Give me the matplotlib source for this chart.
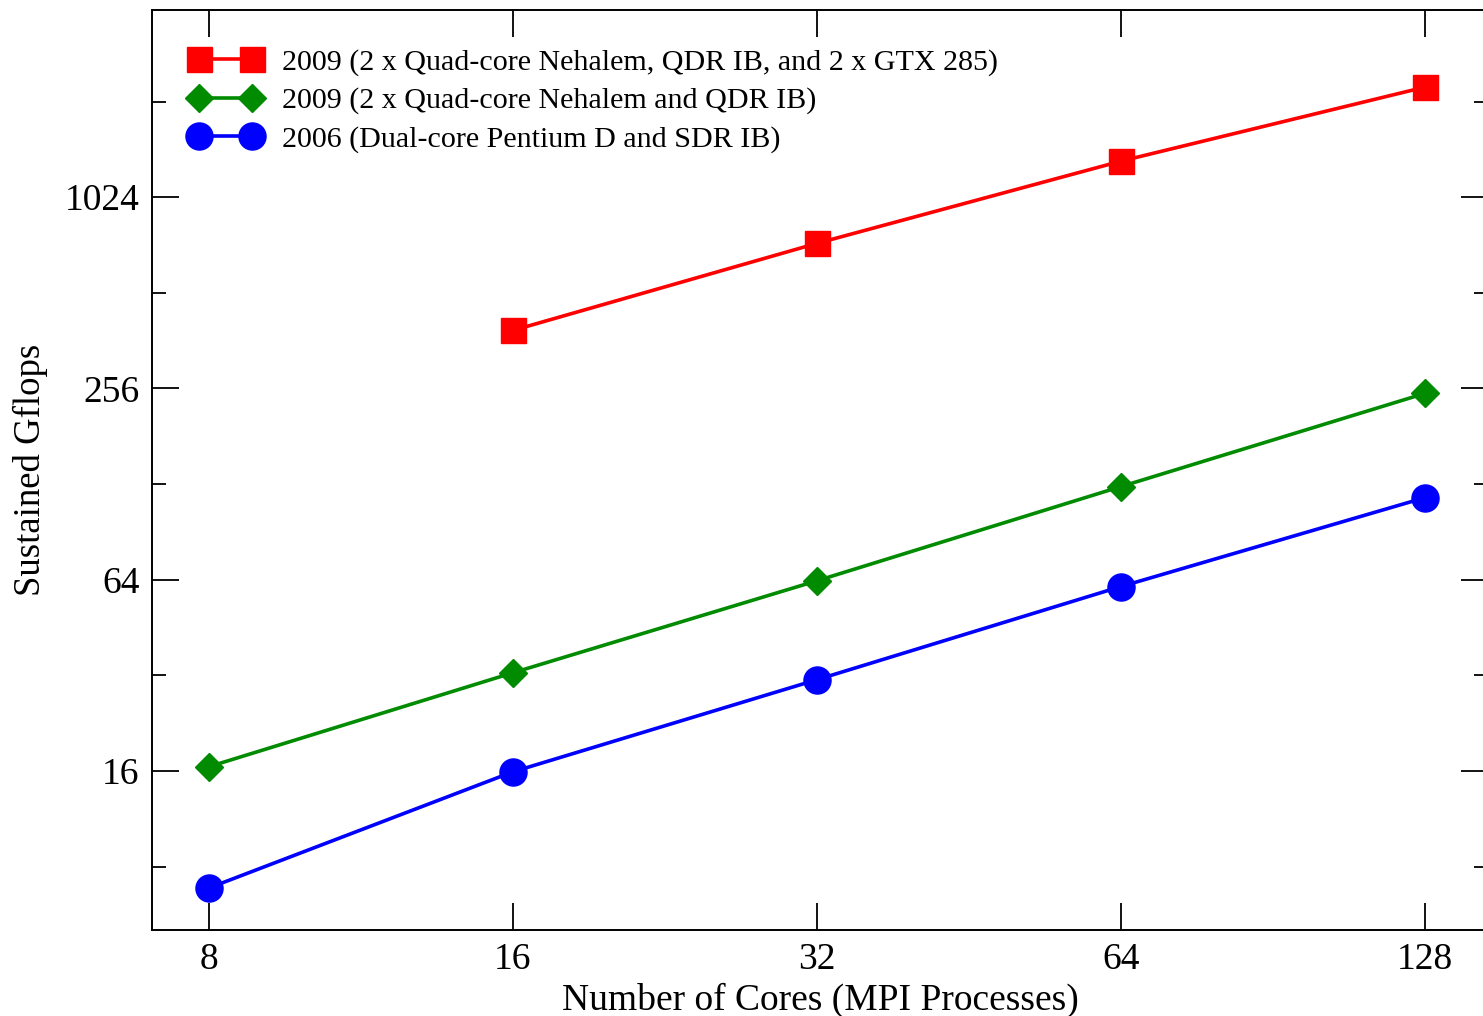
import matplotlib.pyplot as plt
from matplotlib.ticker import FixedLocator, NullFormatter

plt.rcParams['font.family'] = ['Liberation Serif', 'DejaVu Serif']

# data
cores = [8, 16, 32, 64, 128]
gpu_2009 = [None, 390, 733, 1330, 2275]
nehalem_2009 = [16.5, 32.6, 63.5, 125.7, 247]
pentium_2006 = [6.85, 15.9, 31, 60.9, 116]

labels = [
    "2009 (2 x Quad-core Nehalem, QDR IB, and 2 x GTX 285)",
    "2009 (2 x Quad-core Nehalem and QDR IB)",
    "2006 (Dual-core Pentium D and SDR IB)",
]
y_major = [16, 64, 256, 1024]
y_minor = [8, 32, 128, 512, 2048]

fig = plt.figure(figsize=(14.83, 10.16), dpi=100)
ax = fig.add_axes([152 / 1483, 1 - 930 / 1016, 1336 / 1483, 920.5 / 1016])

gx = [c for c, v in zip(cores, gpu_2009) if v is not None]
gy = [v for v in gpu_2009 if v is not None]
ax.plot(gx, gy, "-s", color="#ff0000", lw=2.6, ms=18, label=labels[0])
ax.plot(cores, nehalem_2009, "-D", color="#008b00", lw=2.6, ms=14.2, label=labels[1])
ax.plot(cores, pentium_2006, "-o", color="#0000ff", lw=2.6, ms=19.5, label=labels[2])

ax.set_xscale("log", base=2)
ax.set_yscale("log", base=2)
ax.set_xlim(7.025, 147.8)
ax.set_ylim(5.05, 3993)

ax.xaxis.set_major_locator(FixedLocator(cores))
ax.set_xticklabels([str(c) for c in cores])
ax.xaxis.set_minor_locator(FixedLocator([]))
ax.yaxis.set_major_locator(FixedLocator(y_major))
ax.set_yticklabels([str(v) for v in y_major])
ax.yaxis.set_minor_locator(FixedLocator(y_minor))
ax.yaxis.set_minor_formatter(NullFormatter())

ax.tick_params(which="both", direction="in", top=True, right=True, width=1.3, labelsize=27)
ax.tick_params(which="major", length=19.5, pad=9)
ax.tick_params(which="minor", length=10)
for s in ax.spines.values():
    s.set_linewidth(1.4)

ax.set_xlabel("Number of Cores (MPI Processes)", fontsize=27, labelpad=4)
ax.set_ylabel("Sustained Gflops", fontsize=26.5, labelpad=12)

ax.legend(loc="upper left", bbox_to_anchor=(0.006, 0.99), frameon=False, fontsize=21.6,
          handlelength=2.35, handletextpad=0.72, labelspacing=0.37, borderaxespad=0.6,
          numpoints=2)

fig.savefig("out.png", dpi=100)
